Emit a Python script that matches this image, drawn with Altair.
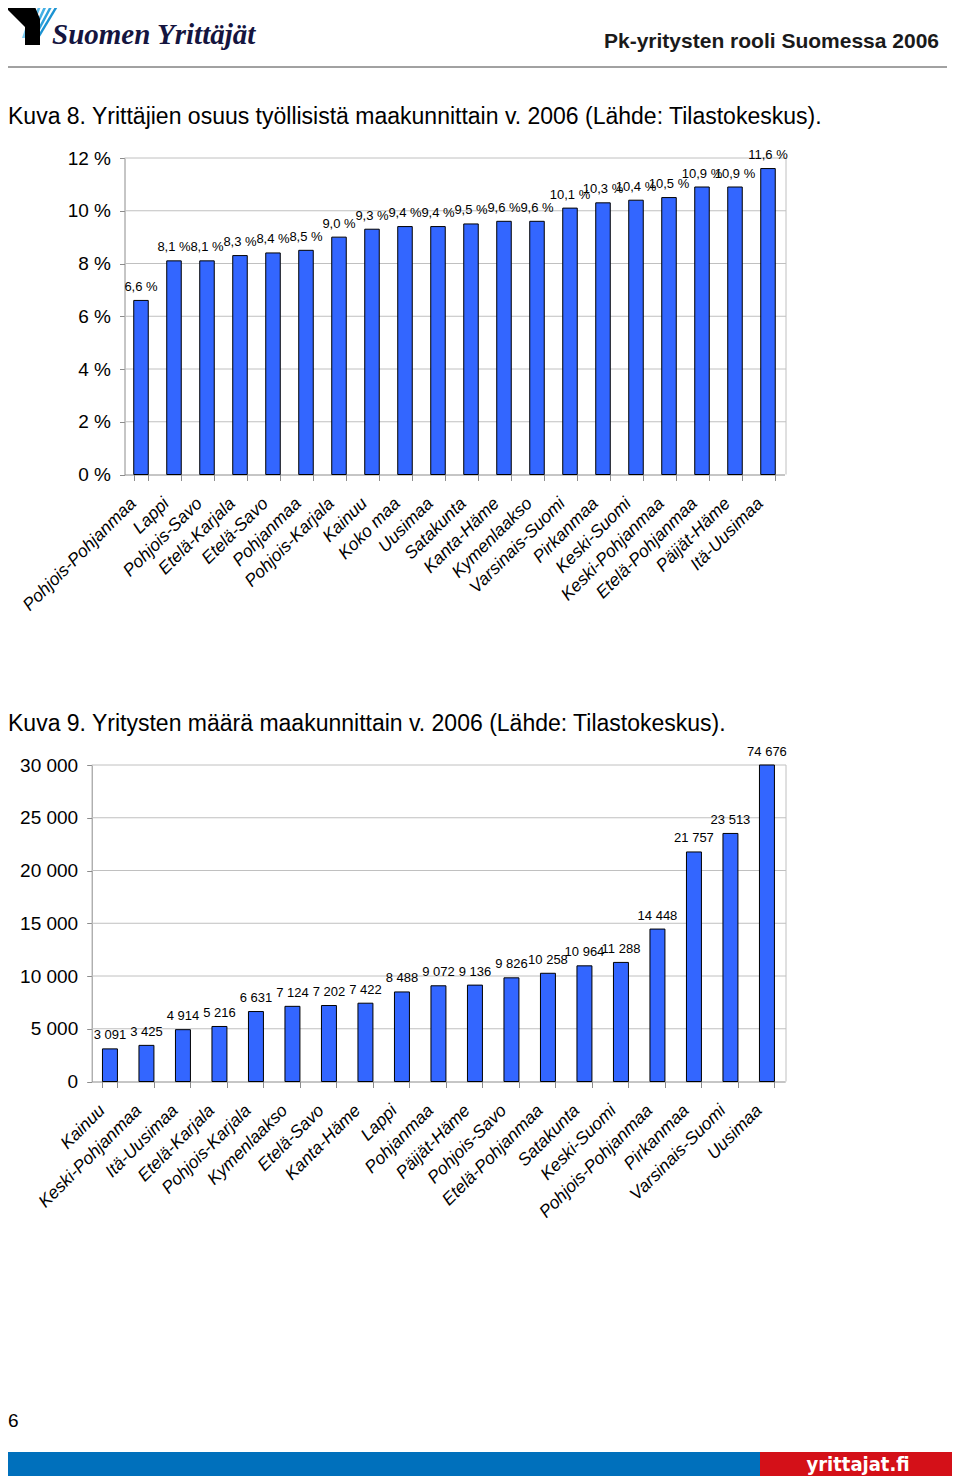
import altair as alt
import pandas as pd

# ------------------------------------------------------------------ data
regions_share = ["Pohjois-Pohjanmaa", "Lappi", "Pohjois-Savo", "Etelä-Karjala", "Etelä-Savo",
                 "Pohjanmaa", "Pohjois-Karjala", "Kainuu", "Koko maa", "Uusimaa", "Satakunta",
                 "Kanta-Häme", "Kymenlaakso", "Varsinais-Suomi", "Pirkanmaa", "Keski-Suomi",
                 "Keski-Pohjanmaa", "Etelä-Pohjanmaa", "Päijät-Häme", "Itä-Uusimaa"]
share_values = [6.6, 8.1, 8.1, 8.3, 8.4, 8.5, 9.0, 9.3, 9.4, 9.4, 9.5, 9.6, 9.6, 10.1, 10.3,
                10.4, 10.5, 10.9, 10.9, 11.6]
share_ticks = [0, 2, 4, 6, 8, 10, 12]

regions_count = ["Kainuu", "Keski-Pohjanmaa", "Itä-Uusimaa", "Etelä-Karjala", "Pohjois-Karjala",
                 "Kymenlaakso", "Etelä-Savo", "Kanta-Häme", "Lappi", "Pohjanmaa", "Päijät-Häme",
                 "Pohjois-Savo", "Etelä-Pohjanmaa", "Satakunta", "Keski-Suomi",
                 "Pohjois-Pohjanmaa", "Pirkanmaa", "Varsinais-Suomi", "Uusimaa"]
count_values = [3091, 3425, 4914, 5216, 6631, 7124, 7202, 7422, 8488, 9072, 9136, 9826, 10258,
                10964, 11288, 14448, 21757, 23513, 74676]
count_ticks = [0, 5000, 10000, 15000, 20000, 25000, 30000]

# ------------------------------------------------------------------ style
W, H = 944, 1468
M = 8  # page margin

SANS = "Liberation Sans, Arial, Helvetica, sans-serif"
SERIF = "Liberation Serif, Times New Roman, serif"
NARROW = "Liberation Sans Narrow, DejaVu Sans Condensed, Arial Narrow, sans-serif"
BAR = "#3366FF"
GRID = "#C0C0C0"
AXIS = "#8C8C8C"

one = pd.DataFrame({"k": [0]})


def pg(v):
    return v - M


def text_at(s, x, y, size, align="left", weight="normal", style="normal", font=SANS, color="black"):
    return alt.Chart(one).mark_text(
        text=s, align=align, baseline="alphabetic", fontSize=size, fontWeight=weight,
        fontStyle=style, font=font, color=color
    ).encode(x=alt.value(pg(x)), y=alt.value(pg(y)))


def rect_at(x1, x2, y1, y2, color):
    return alt.Chart(one).mark_rect(color=color).encode(
        x=alt.value(pg(x1)), x2=alt.value(pg(x2)), y=alt.value(pg(y1)), y2=alt.value(pg(y2)))


def rule_at(x1, x2, y1, y2, color, w=1):
    return alt.Chart(one).mark_rule(color=color, strokeWidth=w).encode(
        x=alt.value(pg(x1)), x2=alt.value(pg(x2)), y=alt.value(pg(y1)), y2=alt.value(pg(y2)))


def shape_at(points, color):
    path = "M" + "L".join(f"{pg(px)},{pg(py)}" for px, py in points) + "Z"
    return alt.Chart(one).mark_point(
        shape=path, size=4, filled=True, fill=color, opacity=1, strokeWidth=0
    ).encode(x=alt.value(0), y=alt.value(0))


def bar_panel(cats, vals, labels, ticks, xr, pad, yr, ydom, label_expr, frame_x):
    df = pd.DataFrame({"region": cats, "value": vals, "label": labels})
    x = alt.X("region:N", sort=None,
              scale=alt.Scale(domain=cats, range=xr, paddingInner=pad, paddingOuter=pad / 2),
              axis=alt.Axis(orient="bottom", offset=yr[0] - H, title=None, labelAngle=-45,
                            labelAlign="right", labelBaseline="middle", labelFont=SANS,
                            labelFontSize=17.5, labelFontStyle="italic", labelColor="black",
                            labelPadding=20, labelOffset=-8, labelOverlap=False,
                            labelLimit=400, tickBand="extent", tickSize=6, tickColor=AXIS,
                            domainColor=AXIS, grid=False))
    y = alt.Y("value:Q",
              scale=alt.Scale(domain=ydom, range=yr, nice=False, zero=True, clamp=True),
              axis=alt.Axis(orient="left", offset=-xr[0], title=None, values=ticks,
                            labelExpr=label_expr, labelFont=SANS, labelFontSize=19,
                            labelColor="black", labelPadding=9, tickSize=5, tickColor=AXIS,
                            domainColor=AXIS, grid=False))
    grid = alt.Chart(pd.DataFrame({"value": ticks[1:]})).mark_rule(color=GRID).encode(
        y=y, x=alt.value(xr[0]), x2=alt.value(frame_x))
    frame = alt.Chart(one).mark_rule(color=GRID).encode(
        x=alt.value(frame_x), y=alt.value(yr[1]), y2=alt.value(yr[0]))
    bars = alt.Chart(df).mark_bar(color=BAR, stroke="black", strokeWidth=1).encode(x=x, y=y)
    text = alt.Chart(df).mark_text(
        dy=-9.5, fontSize=13, font=SANS, baseline="alphabetic", color="black"
    ).encode(x=x, y=y, text="label:N")
    return alt.layer(grid, frame, bars, text)


share_labels = [f"{v:.1f}".replace(".", ",") + " %" for v in share_values]
count_labels = [f"{v:,}".replace(",", " ") for v in count_values]

panel1 = bar_panel(regions_share, share_values, share_labels, share_ticks,
                   [pg(124.5), pg(784.5)], 0.56, [pg(474.5), pg(158)], [0, 12],
                   "datum.value + ' %'", pg(786))
panel2 = bar_panel(regions_count, count_values, count_labels, count_ticks,
                   [pg(91.7), pg(785.2)], 0.59, [pg(1081.5), pg(765)], [0, 30000],
                   "replace(format(datum.value, ','), ',', ' ')", pg(786))

# ------------------------------------------------------------------ page decorations
stripe_cols = ["#7CCCF2", "#5CBDEB", "#45B0E5", "#2FA2DC", "#1C93D2"]
stripes = []
for i in range(5):
    tx = 34 + 6 * i
    bx = 22 + 3.6 * i
    stripes.append(shape_at([(tx, 2), (tx + 2.8, 2), (bx + 2.8, 38), (bx, 38)], stripe_cols[i]))
logo_black = shape_at([(0, 2), (33, 2), (40, 19), (40, 45), (25, 45), (25, 27)], "#000000")

header = [
    *stripes,
    logo_black,
    text_at("Suomen Yrittäjät", 52, 44, 29, weight="bold", style="italic", font=SERIF,
            color="#15153F"),
    text_at("Pk-yritysten rooli Suomessa 2006", 939, 48, 21, align="right", weight="bold",
            color="#1A1A1A"),
    rule_at(0, 947, 67, 67, "#444444"),
    text_at("Kuva 8. Yrittäjien osuus työllisistä maakunnittain v. 2006 (Lähde: Tilastokeskus).",
            8, 124, 23),
    text_at("Kuva 9. Yritysten määrä maakunnittain v. 2006 (Lähde: Tilastokeskus).",
            8, 731, 23),
    text_at("6", 8, 1427, 19),
]

footer = [
    rect_at(0, 760, 1452, 1484, "#0070BC"),
    rect_at(760, 960, 1452, 1484, "#D41018"),
    text_at("yrittajat.fi", 858, 1471, 20, align="center", weight="bold", font=NARROW,
            color="white"),
]

chart = alt.layer(*header, panel1, panel2, *footer).resolve_scale(
    x="independent", y="independent"
).properties(
    width=W, height=H, autosize=alt.AutoSizeParams(type="none"), padding=0,
    background="white"
).configure_view(strokeWidth=0)

chart.save("out.html", embed_options={"renderer": "svg", "actions": False})
